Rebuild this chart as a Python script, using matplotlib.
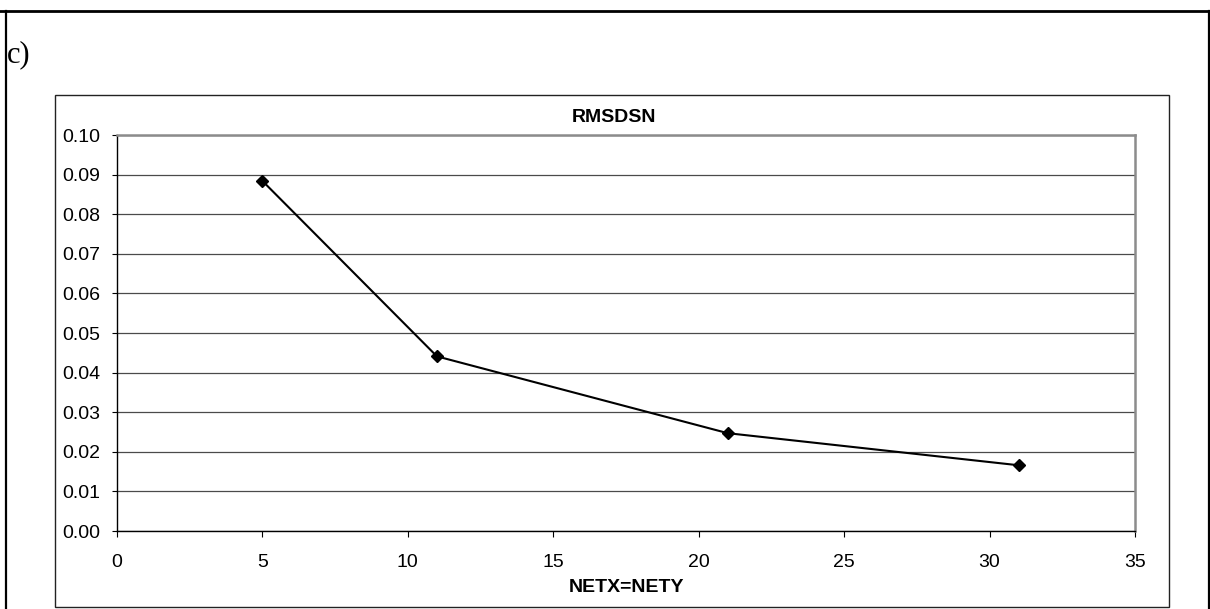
import matplotlib
matplotlib.use("Agg")
import matplotlib.pyplot as plt
from matplotlib.patches import Rectangle
from matplotlib.lines import Line2D

# Data
netx = [5, 11, 21, 31]
rmsdsn = [0.0884, 0.0441, 0.0247, 0.0166]
xticks = [0, 5, 10, 15, 20, 25, 30, 35]
yticks = [0.00, 0.01, 0.02, 0.03, 0.04, 0.05, 0.06, 0.07, 0.08, 0.09, 0.10]
title = "RMSDSN"
xlabel = "NETX=NETY"
panel_label = "c)"

W, H = 1210, 609
plt.rcParams['font.family'] = ['Liberation Sans', 'DejaVu Sans']
fig = plt.figure(figsize=(W / 100, H / 100), dpi=100)

def fx(px):
    return px / W

def fy(py):
    return 1 - py / H

# outer frame lines
fig.add_artist(Line2D([fx(0), fx(1210)], [fy(11), fy(11)], color='black', lw=2.0,
                      transform=fig.transFigure))
fig.add_artist(Line2D([fx(6), fx(6)], [fy(11), fy(609)], color='black', lw=1.6,
                      transform=fig.transFigure))
fig.add_artist(Line2D([fx(1209), fx(1209)], [fy(11), fy(609)], color='black', lw=1.6,
                      transform=fig.transFigure))

# chart area box
fig.add_artist(Rectangle((fx(55), fy(607)), (1169 - 55) / W, (607 - 95) / H,
                         fill=False, edgecolor='#222222', lw=1.0,
                         transform=fig.transFigure))

# panel label
fig.text(fx(7), fy(62), panel_label, family=['Liberation Serif', 'DejaVu Serif'],
         fontsize=22, ha='left', va='baseline')

ax = fig.add_axes([fx(117), fy(531), (1135 - 117) / W, (531 - 135) / H])
ax.plot(netx, rmsdsn, color='black', lw=1.5, marker='D', markersize=6.5,
        markerfacecolor='black', markeredgecolor='black', zorder=5, clip_on=False)

ax.set_xlim(0, 35)
ax.set_ylim(0, 0.10)
ax.set_xticks(xticks)
ax.set_xticklabels([str(t) for t in xticks])
ax.set_yticks(yticks)
ax.set_yticklabels([f"{t:.2f}" for t in yticks])
ax.yaxis.grid(True, color='#4a4a4a', lw=0.9)
ax.set_axisbelow(True)

for s in ['top', 'right']:
    ax.spines[s].set_color('#8c8c8c')
    ax.spines[s].set_linewidth(1.8)
for s in ['left', 'bottom']:
    ax.spines[s].set_color('black')
    ax.spines[s].set_linewidth(1.0)

ax.tick_params(axis='y', direction='out', length=3.6, width=0.8, color='black',
               labelsize=14, pad=8.6)
ax.tick_params(axis='x', direction='out', length=4.3, width=0.8, color='black',
               labelsize=14, pad=12)

fig.text(fx(614), fy(122), title, fontsize=14, fontweight='bold',
         ha='center', va='baseline')
fig.text(fx(626), fy(592), xlabel, fontsize=14, fontweight='bold',
         ha='center', va='baseline')

fig.savefig('out.png', dpi=100)
